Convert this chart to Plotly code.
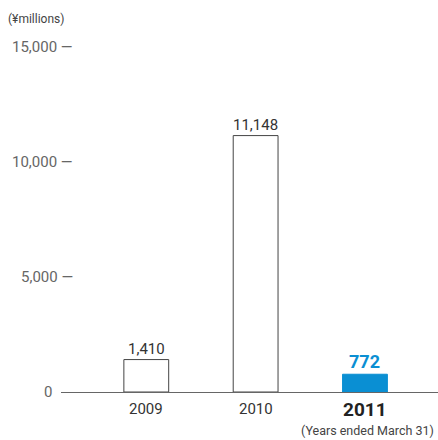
import plotly.graph_objects as go

years = ["2009", "2010", "2011"]
values = [1410, 11148, 772]
value_labels = ["1,410", "11,148", "772"]
ytick_vals = [0, 5000, 10000, 15000]
ytick_text = ["0", "5,000 —", "10,000 —", "15,000 —"]

FONT = "Roboto, Liberation Sans, sans-serif"
BLUE = "#0a8fd3"

fill = ["white", "white", BLUE]
line_col = ["#444444", "#444444", BLUE]

fig = go.Figure()
fig.add_trace(go.Bar(
    x=[0, 1, 2], y=values, width=0.41,
    marker=dict(color=fill, line=dict(color=line_col, width=1)),
    hoverinfo="skip",
))

annotations = []
for i, (v, lab) in enumerate(zip(values, value_labels)):
    last = i == len(values) - 1
    annotations.append(dict(
        x=i, y=v, xref="x", yref="y", text=f"<b>{lab}</b>" if last else lab,
        showarrow=False, yanchor="bottom", yshift=0,
        font=dict(family=FONT, size=18 if last else 15, color=BLUE if last else "#333333"),
    ))
    annotations.append(dict(
        x=i, y=0, xref="x", yref="y", text=f"<b>{years[i]}</b>" if last else years[i],
        showarrow=False, yanchor="top", yshift=-4 if last else -6,
        font=dict(family=FONT, size=19 if last else 15, color="#222222" if last else "#333333"),
    ))
for v, t in zip(ytick_vals, ytick_text):
    annotations.append(dict(
        x=0, y=v, xref="paper", yref="y", text=t, showarrow=False,
        xanchor="right", yanchor="middle", xshift=14 if v else -7,
        font=dict(family=FONT, size=15, color="#666666"),
    ))
annotations.append(dict(
    x=0, y=1, xref="paper", yref="paper", text="(¥millions)", showarrow=False,
    xanchor="left", yanchor="middle", xshift=-55, yshift=9,
    font=dict(family=FONT, size=12, color="#444444"),
))
annotations.append(dict(
    x=1, y=0, xref="paper", yref="paper", text="(Years ended March 31)", showarrow=False,
    xanchor="right", yanchor="bottom", yshift=-47, xshift=-3, borderpad=0,
    font=dict(family=FONT, size=12.5, color="#444444"),
))

fig.update_layout(
    width=438, height=440,
    margin=dict(l=61, r=0, t=28, b=48),
    plot_bgcolor="white", paper_bgcolor="white",
    showlegend=False,
    xaxis=dict(range=[-0.78, 2.668], showticklabels=False, showgrid=False, zeroline=False,
               showline=True, linecolor="#666666", linewidth=1, fixedrange=True),
    yaxis=dict(range=[0, 15826], showticklabels=False, showgrid=False, zeroline=False,
               showline=False, fixedrange=True),
    annotations=annotations,
)

fig.write_html("out.html", config={"displayModeBar": False},
               post_script="document.body.style.margin='0';document.body.style.overflow='hidden';")
